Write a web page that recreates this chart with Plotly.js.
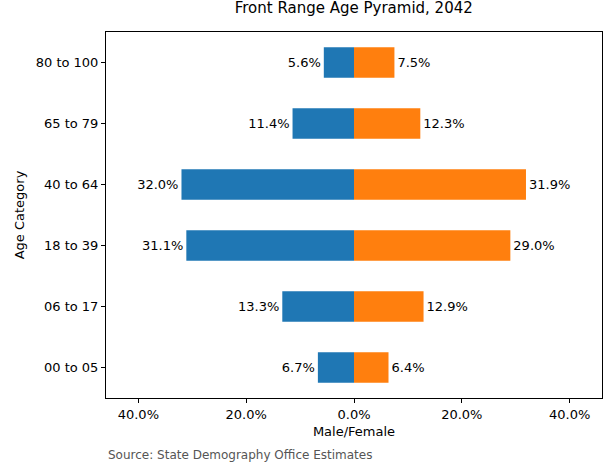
<!DOCTYPE html>
<html>
<head>
<script src="https://cdn.plot.ly/plotly-3.0.1.min.js"></script>
<style>body{margin:0}</style>
</head>
<body>
<div id="chart" style="width:612px;height:471px"></div>
<script>
const categories = ['00 to 05', '06 to 17', '18 to 39', '40 to 64', '65 to 79', '80 to 100'];
const male = [6.7, 13.3, 31.1, 32.0, 11.4, 5.6];
const female = [6.4, 12.9, 29.0, 31.9, 12.3, 7.5];
const tickVals = [-40, -20, 0, 20, 40];
const tickText = ['40.0%', '20.0%', '0.0%', '20.0%', '40.0%'];

const font = { family: 'DejaVu Sans', size: 13, color: '#000' };

Plotly.newPlot('chart', [
    {
        type: 'bar', orientation: 'h', y: categories, x: male.map(v => -v),
        marker: { color: '#1f77b4' }, width: 0.5,
        text: male.map(v => v.toFixed(1) + '%'), textposition: 'outside',
        textfont: font, cliponaxis: false, hoverinfo: 'skip'
    },
    {
        type: 'bar', orientation: 'h', y: categories, x: female,
        marker: { color: '#ff7f0e' }, width: 0.5,
        text: female.map(v => v.toFixed(1) + '%'), textposition: 'outside',
        textfont: font, cliponaxis: false, hoverinfo: 'skip'
    }
], {
    barmode: 'overlay',
    showlegend: false,
    font: font,
    paper_bgcolor: '#fff', plot_bgcolor: '#fff',
    margin: { l: 106, r: 10, t: 32, b: 73 },
    title: { text: 'Front Range Age Pyramid, 2042', font: { family: 'DejaVu Sans', size: 15 }, x: 0.578, xanchor: 'center', y: 0.995, yanchor: 'top' },
    xaxis: {
        range: [-46, 46], tickvals: tickVals, ticktext: tickText,
        showline: true, mirror: true, linecolor: '#000', showgrid: false, zeroline: false,
        ticks: 'outside', ticklen: 4, tickcolor: '#000',
        title: { text: 'Male/Female', font: font, standoff: 6 }
    },
    yaxis: {
        range: [-0.5, 5.5], type: 'category',
        showline: true, mirror: true, linecolor: '#000', showgrid: false,
        ticks: 'outside', ticklen: 4, tickcolor: '#000',
        title: { text: 'Age Category', font: font, standoff: 8 }
    },
    annotations: [{
        text: 'Source: State Demography Office Estimates', xref: 'paper', yref: 'paper',
        x: 0, y: -0.156, xanchor: 'left', yanchor: 'middle', showarrow: false,
        font: { family: 'DejaVu Sans', size: 12, color: '#555' }
    }]
}, { displayModeBar: false });
</script>
</body>
</html>
